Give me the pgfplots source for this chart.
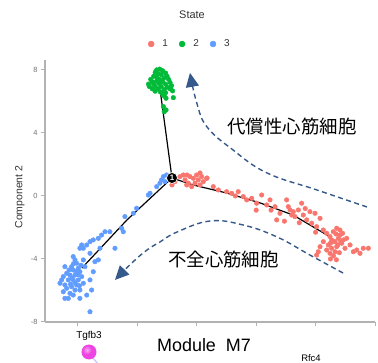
\documentclass[border=0pt]{standalone}
\usepackage{pgfplots}
\pgfplotsset{compat=1.18}
\usepackage{fontspec}
\setmainfont{Liberation Sans}
\newfontfamily\cjk{Noto Sans CJK JP}
\usetikzlibrary{arrows.meta}
\definecolor{cred}{HTML}{F8766D}
\definecolor{cgreen}{HTML}{00BA38}
\definecolor{cblue}{HTML}{619CFF}
\definecolor{arr}{HTML}{35598A}
\definecolor{pinkball}{HTML}{EE44E2}
\pgfplotsset{stdot/.style={only marks, mark=*, mark size=2.3bp, mark options={draw=none},
  legend image code/.code={\fill[##1] (0bp,0bp) circle (3bp);}}}
\begin{document}
\begin{tikzpicture}[x=1bp,y=1bp]
\useasboundingbox (0,0) rectangle (378,363);
\begin{axis}[
 at={(45bp,41bp)}, anchor=south west,
 scale only axis, width=330bp, height=262bp,
 xmin=-2.22, xmax=20, ymin=-8, ymax=8.63,
 axis x line*=bottom, axis y line*=left,
 axis line style={-, black!30, line width=1.2bp},
 xtick={0,4,...,20}, xticklabels={},
 ytick={-8,-4,0,4,8},
 tick align=outside, major tick length=4bp,
 tick style={black!30, line width=1bp},
 yticklabel style={font=\fontsize{7.5}{8}\selectfont, text=black!55},
 /pgf/number format/assume math mode=true,
 ylabel={Component 2},
 ylabel style={at={(axis description cs:-0.076,0.477)}, anchor=center, font=\fontsize{10.5}{12}\selectfont, text=black!80},
 clip=false,
 legend columns=3,
 legend style={draw=none, fill=none, at={(0.439,1.061)}, anchor=center,
   font=\fontsize{10}{11}\selectfont, text=black!80,
   /tikz/every odd column/.append style={column sep=6bp},
   /tikz/every even column/.append style={column sep=9bp}},
]
% State 1
\addplot[stdot, color=cred] coordinates {
(6.53,0.91)(6.87,1.23)(7.09,1.33)(7.21,1.02)(7.43,0.81)(7.66,0.59)(7.77,1.12)(7.99,1.33)(8.10,1.02)(8.33,1.23)(8.44,0.91)(8.67,1.12)(7.88,0.81)(8.22,0.70)(7.54,1.23)(7.32,0.70)(6.33,0.70)
(7.34,1.33)(8.22,1.46)(8.69,1.14)
(9.11,0.59)(9.45,0.38)(10.01,0.27)(10.35,0.17)(10.79,0.27)(11.13,-0.04)(11.36,-0.25)(11.70,-0.15)(12.03,-0.46)(12.37,0.06)(12.71,-0.57)(12.93,-0.25)(13.27,-0.68)(13.38,-1.52)(13.60,-1.10)(14.05,-0.25)(14.16,-0.68)(14.28,-0.89)(14.39,-1.21)(14.50,-1.00)(14.61,-1.31)(14.84,-0.89)(15.06,-0.46)(15.17,-1.21)(15.40,-1.52)(15.62,-1.00)(15.74,-1.73)(15.96,-1.10)(16.07,-1.95)(16.30,-1.42)(16.52,-2.16)(16.75,-2.37)
(10.6,0.0)(12.0,-0.9)(13.0,-0.9)(13.9,-1.6)(14.9,-1.7)(15.3,-0.8)(16.0,-2.3)
(16.97,-2.58)(17.19,-2.27)(17.42,-2.05)(17.64,-2.48)(17.87,-2.79)(17.19,-2.90)(16.86,-3.11)(17.08,-3.32)(17.42,-3.22)(17.76,-3.00)(17.53,-2.69)(17.31,-3.54)(16.97,-3.64)(16.75,-3.43)(17.98,-3.32)(18.09,-2.69)(17.64,-2.16)(17.82,-2.37)(17.37,-2.41)(17.08,-2.79)
(18.32,-3.11)(18.77,-3.43)(19.21,-3.32)(19.55,-3.32)(18.54,-3.54)(18.99,-3.64)(16.18,-3.54)(16.30,-3.22)(16.52,-2.90)(16.07,-3.75)
(17.3,-2.9)(17.5,-3.1)(17.0,-3.0)(17.7,-2.9)(17.2,-3.8)(17.6,-3.6)(17.0,-4.0)(17.4,-4.05)
};
\addlegendentry{1}
% State 2
\addplot[stdot, color=cgreen] coordinates {
(5.3,8.0)(5.5,8.05)(5.7,7.95)(5.2,7.85)(5.9,7.8)(5.4,7.75)(5.6,7.7)(6.0,7.6)(5.1,7.6)(5.3,7.55)(5.8,7.5)(4.9,7.4)(5.5,7.4)(6.1,7.4)(5.0,7.25)(5.3,7.3)(5.7,7.25)(6.2,7.2)(4.75,7.1)(5.1,7.1)(5.45,7.15)(5.9,7.1)(6.3,7.0)(4.8,6.95)(5.2,6.95)(5.6,6.95)(6.0,6.9)(5.0,6.8)(5.4,6.8)(5.8,6.75)(6.2,6.8)(5.2,6.65)(5.55,6.6)(5.9,6.55)
(6.24,6.84)(6.42,6.24)(6.37,6.67)(5.81,6.35)(5.7,6.45)(5.93,6.2)(5.75,5.67)(5.93,5.46)(5.81,5.35)
};
\addlegendentry{2}
% State 3
\addplot[stdot, color=cblue] coordinates {
(5.75,1.23)(5.97,1.33)(5.63,1.02)(5.52,0.81)(5.30,0.59)(5.86,0.91)(4.74,0.06)(4.85,0.17)(3.95,-0.78)(3.73,-1.10)(3.16,-1.31)(2.94,-2.05)(3.05,-2.27)(2.49,-3.32)(2.15,-2.27)(1.82,-2.27)(1.59,-2.48)(1.37,-2.69)(1.03,-2.79)(0.81,-2.90)(0.59,-3.11)(0.25,-3.11)(0.13,-3.32)(0.36,-3.32)(1.48,-3.32)(1.37,-4.06)(1.14,-4.17)(1.03,-4.81)(0.81,-3.64)
(-0.32,-3.85)(-0.20,-4.06)(-0.09,-4.27)(-0.43,-4.49)(-0.32,-4.70)(0.02,-4.59)(0.13,-4.81)(-0.20,-5.02)(-0.54,-5.02)(-0.76,-4.91)(-0.88,-4.49)(-0.99,-5.12)(-1.10,-5.33)(-0.65,-5.33)(-0.32,-5.33)(0.02,-5.33)(-0.09,-5.65)(-0.43,-5.76)(-0.76,-5.86)(-0.99,-6.08)(-0.54,-6.18)(-0.32,-6.29)(-0.88,-6.50)(-0.65,-6.50)(0.13,-5.97)(0.25,-5.12)(-1.21,-5.54)(-0.88,-5.65)(-0.20,-5.97)(0.36,-5.54)
(0.13,-6.50)(0.59,-6.29)(0.92,-5.97)(0.81,-7.35)(0.47,-4.49)(0.36,-4.06)(0.81,-5.33)
(-0.1,-4.8)(0.0,-5.0)(-0.4,-5.2)(-0.6,-4.7)(-0.2,-5.5)(0.1,-5.7)(-0.5,-5.6)(0.2,-4.4)(-0.3,-4.3)
};
\addlegendentry{3}
% trajectory
\addplot[forget plot, black, line width=1.2bp] coordinates {(5.55,6.6)(6.33,1.14)};
\addplot[forget plot, black, line width=1.2bp] coordinates {(6.33,1.14)(7.74,0.70)(10.0,0.19)(12.26,-0.44)(14.48,-1.21)(16.77,-2.48)(17.17,-2.79)};
\addplot[forget plot, black, line width=1.2bp] coordinates {(6.33,1.14)(3.3,-1.52)(0.27,-4.57)};
\addplot[forget plot, only marks, mark=*, mark size=5.5bp, mark options={fill=black, draw=white, line width=0.6bp},
 nodes near coords={1}, every node near coord/.style={anchor=center, text=white, font=\bfseries\fontsize{8}{8}\selectfont}] coordinates {(6.33,1.14)};
% dashed arrows
\addplot[forget plot, arr, line width=1.4bp, dash pattern=on 5bp off 3.5bp, smooth, tension=0.7,
 -{Triangle[length=14bp,width=13bp]}] coordinates {(19.46,-0.70)(16.09,0.38)(12.73,1.46)(10.44,2.92)(8.69,4.38)(8.0,5.9)(7.54,7.81)};
\addplot[forget plot, arr, line width=1.4bp, dash pattern=on 5bp off 3.5bp, smooth, tension=0.7,
 -{Triangle[length=14bp,width=13bp]}] coordinates {(17.85,-4.89)(15.62,-3.75)(13.40,-2.60)(11.11,-1.84)(8.89,-1.59)(6.67,-2.29)(5.52,-2.92)(4.65,-3.43)(3.70,-4.19)(2.49,-5.33)};
\node[font=\cjk\fontsize{18.5}{20}\selectfont, text=black] at (axis cs:14.41,4.38) {代償性心筋細胞};
\node[font=\cjk\fontsize{18.5}{20}\selectfont, text=black] at (axis cs:9.80,-4.06) {不全心筋細胞};
\end{axis}
\node[font=\fontsize{11}{12}\selectfont, text=black!80] at (192,348) {State};
\draw[blue!20, line width=1.5bp] (92,6) -- (99,-2);
\fill[pinkball] (89,11) circle (7.5);
\shade[inner color=white!55!pinkball, outer color=pinkball] (87,13) circle (4.5);
\node[font=\fontsize{10}{11}\selectfont] at (89,27) {Tgfb3};
\node[font=\fontsize{18}{20}\selectfont] at (204,18) {Module\ \ M7};
\node[font=\fontsize{9.5}{10}\selectfont, anchor=base, inner sep=0pt] at (311,1.5) {Rfc4};
\end{tikzpicture}
\end{document}
